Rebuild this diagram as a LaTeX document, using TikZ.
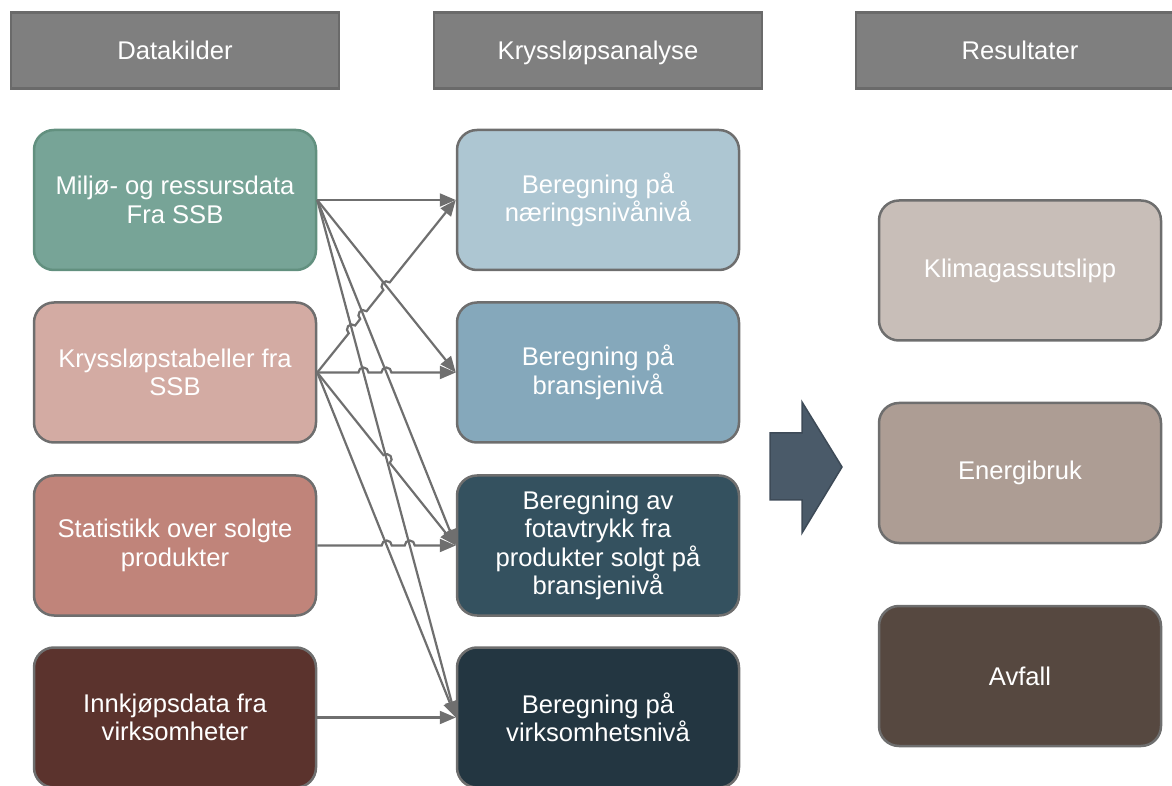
\documentclass[tikz,border=0pt]{standalone}
\usepackage{fontspec}
\setmainfont{Liberation Sans}
\usetikzlibrary{arrows.meta,calc}
\definecolor{hdfill}{HTML}{7F7F7F}
\definecolor{hdline}{HTML}{6A6A6A}
\definecolor{bxline}{HTML}{6E6E6E}
\definecolor{lngray}{HTML}{6F6F6F}
\definecolor{srcA}{HTML}{77A497}
\definecolor{srcAline}{HTML}{62907F}
\definecolor{srcB}{HTML}{D3ABA3}
\definecolor{srcC}{HTML}{C0847A}
\definecolor{srcD}{HTML}{5B332D}
\definecolor{midA}{HTML}{ADC6D2}
\definecolor{midB}{HTML}{85A8BB}
\definecolor{midC}{HTML}{34515F}
\definecolor{midD}{HTML}{233641}
\definecolor{resA}{HTML}{C8BEB8}
\definecolor{resB}{HTML}{AD9D94}
\definecolor{resC}{HTML}{564840}
\definecolor{arrfill}{HTML}{4A5A69}
\definecolor{arrline}{HTML}{3D4A57}
% line jump: crossing point, start of the line, direction of the line
\newcommand\hop[3]{-- ($(#1)!5pt!(#2)$) arc[start angle=#3+180,end angle=#3,radius=5pt]}
\tikzset{
  >={Triangle[length=16pt,width=13pt]},
  hd/.style={draw=hdline,fill=hdfill,line width=2.5pt,minimum width=328pt,minimum height=76pt,text=white,text height=18pt,text depth=0pt,font=\fontsize{25.6}{28.5}\selectfont},
  bx/.style={draw=bxline,rounded corners=20pt,line width=2.5pt,minimum width=282pt,minimum height=140pt,align=center,text=white,font=\fontsize{25.6}{28.5}\selectfont},
  ln/.style={draw=lngray,line width=2.2pt,->},
}

\begin{document}
\begin{tikzpicture}[x=1pt,y=1pt]
\useasboundingbox (0,0) rectangle (1172,785);
\node[hd] (h1) at (175,734.5){Datakilder}; \node[hd] (h2) at (598,734.5){Kryssløpsanalyse}; \node[hd] (h3) at (1020,734.5){Resultater};
\node[bx,fill=srcA,draw=srcAline] (s1) at (175,585){Miljø- og ressursdata\\Fra SSB};
\node[bx,fill=srcB] (s2) at (175,412.5){Kryssløpstabeller fra\\SSB};
\node[bx,fill=srcC] (s3) at (175,239.5){Statistikk over solgte\\produkter};
\node[bx,fill=srcD] (s4) at (175,67.5){Innkjøpsdata fra\\virksomheter};
\node[bx,fill=midA] (m1) at (598,585){Beregning på\\næringsnivånivå};
\node[bx,fill=midB] (m2) at (598,412.5){Beregning på\\bransjenivå};
\node[bx,fill=midC] (m3) at (598,239.5){Beregning av\\fotavtrykk fra\\produkter solgt på\\bransjenivå};
\node[bx,fill=midD] (m4) at (598,67.5){Beregning på\\virksomhetsnivå};
\node[bx,fill=resA] (r1) at (1020,514.5){Klimagassutslipp};
\node[bx,fill=resB] (r2) at (1020,312){Energibruk};
\node[bx,fill=resC] (r3) at (1020,109){Avfall};
\filldraw[fill=arrfill,draw=arrline,line width=1.5pt] (770,352) -- (802,352) -- (802,383) -- (842,318) -- (802,252) -- (802,285) -- (770,285) -- cycle;
% crossings
\coordinate (k14) at (intersection of s2.east--m1.west and s1.east--m4.west);
\coordinate (k13) at (intersection of s2.east--m1.west and s1.east--m3.west);
\coordinate (k12) at (intersection of s2.east--m1.west and s1.east--m2.west);
\coordinate (f14) at (intersection of s2.east--m2.west and s1.east--m4.west);
\coordinate (f13) at (intersection of s2.east--m2.west and s1.east--m3.west);
\coordinate (g14) at (intersection of s2.east--m3.west and s1.east--m4.west);
\coordinate (i24) at (intersection of s3.east--m3.west and s2.east--m4.west);
\coordinate (i14) at (intersection of s3.east--m3.west and s1.east--m4.west);
\draw[ln] (s1.east) -- (m1.west); \draw[ln] (s1.east) -- (m2.west);
\draw[ln] (s1.east) -- (m3.west); \draw[ln] (s1.east) -- (m4.west);
\draw[ln] (s2.east) \hop{k14}{s2.east}{50.7} \hop{k13}{s2.east}{50.7} \hop{k12}{s2.east}{50.7} -- (m1.west);
\draw[ln] (s2.east) \hop{f14}{s2.east}{0} \hop{f13}{s2.east}{0} -- (m2.west);
\draw[ln] (s2.east) \hop{g14}{s2.east}{-50.8} -- (m3.west);
\draw[ln] (s2.east) -- (m4.west);
\draw[ln] (s3.east) \hop{i24}{s3.east}{0} \hop{i14}{s3.east}{0} -- (m3.west);
\draw[ln] (s4.east) -- (m4.west);
\end{tikzpicture}
\end{document}
